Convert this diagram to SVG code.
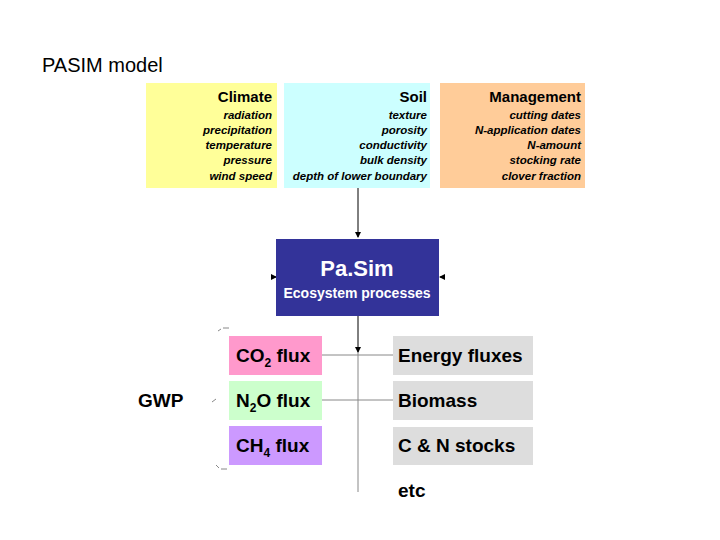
<svg xmlns="http://www.w3.org/2000/svg" width="720" height="540" viewBox="0 0 720 540">
<style>
text{font-family:"Liberation Sans",Arial,sans-serif}
.h{font-weight:bold;font-size:15px;text-anchor:end}
.i{font-weight:bold;font-style:italic;font-size:11.5px;text-anchor:end}
.b{font-weight:bold;font-size:19px}
.c{stroke:#000;stroke-width:1;fill:none}
.g{stroke:#888;stroke-width:1;fill:none}
</style>
<defs><marker id="a" markerWidth="6" markerHeight="6" refX="5" refY="3" orient="auto"><path d="M0,0L6,3L0,6z" fill="#000"/></marker></defs>
<rect width="720" height="540" fill="#fff"/>
<text x="42" y="72" font-size="20">PASIM model</text>
<g id="connectors">
<line class="c" x1="358" y1="188" x2="358" y2="237" marker-end="url(#a)"/>
<line class="c" x1="358" y1="316" x2="358" y2="352" marker-end="url(#a)"/>
<line class="g" x1="358" y1="352" x2="358" y2="492"/>
<line class="g" x1="322" y1="355" x2="393" y2="355"/>
<line class="g" x1="322" y1="400" x2="393" y2="400"/>
<path d="M274,277l2,0" stroke="#000" marker-end="url(#a)"/>
<path d="M442,277l-2,0" stroke="#000" marker-end="url(#a)"/>
<path d="M218,331l3,-2M223,328h6M212,402l4,-3M216,465l3,3M221,469h6" class="g"/>
</g>
<g id="climate"><rect x="146" y="83" width="131" height="105" fill="#ffff99"/>
<text class="h" x="272" y="102">Climate</text>
<text class="i" x="272" y="119">radiation</text><text class="i" x="272" y="134">precipitation</text><text class="i" x="272" y="149">temperature</text><text class="i" x="272" y="164">pressure</text><text class="i" x="272" y="180">wind speed</text></g>
<g id="soil"><rect x="284" y="83" width="146" height="105" fill="#ccffff"/>
<text class="h" x="427" y="102">Soil</text>
<text class="i" x="427" y="119">texture</text><text class="i" x="427" y="134">porosity</text><text class="i" x="427" y="149">conductivity</text><text class="i" x="427" y="164">bulk density</text><text class="i" x="427" y="180">depth of lower boundary</text></g>
<g id="management"><rect x="440" y="83" width="145" height="105" fill="#ffcc99"/>
<text class="h" x="581" y="102">Management</text>
<text class="i" x="581" y="119">cutting dates</text><text class="i" x="581" y="134">N-application dates</text><text class="i" x="581" y="149">N-amount</text><text class="i" x="581" y="164">stocking rate</text><text class="i" x="581" y="180">clover fraction</text></g>
<g id="pasim"><rect x="276" y="239" width="163" height="77" fill="#333399"/>
<text x="357" y="276" fill="#fff" font-size="22" font-weight="bold" text-anchor="middle">Pa.Sim</text>
<text x="357" y="298" fill="#fff" font-size="14" font-weight="bold" text-anchor="middle">Ecosystem processes</text></g>
<g id="co2"><rect x="229" y="336" width="93" height="39" fill="#ff99cc"/><text class="b" x="236" y="362">CO<tspan font-size="12" dy="5">2</tspan><tspan dy="-5"> flux</tspan></text></g>
<g id="n2o"><rect x="229" y="381" width="93" height="39" fill="#ccffcc"/><text class="b" x="236" y="407">N<tspan font-size="12" dy="5">2</tspan><tspan dy="-5">O flux</tspan></text></g>
<g id="ch4"><rect x="229" y="426" width="93" height="39" fill="#cc99ff"/><text class="b" x="236" y="452">CH<tspan font-size="12" dy="5">4</tspan><tspan dy="-5"> flux</tspan></text></g>
<g id="gwp"><text class="b" x="138" y="407">GWP</text></g>
<g id="energy"><rect x="393" y="336" width="140" height="39" fill="#dddddd"/><text class="b" x="398" y="362">Energy fluxes</text></g>
<g id="biomass"><rect x="393" y="381" width="140" height="39" fill="#dddddd"/><text class="b" x="398" y="407">Biomass</text></g>
<g id="cn"><rect x="393" y="427" width="140" height="38" fill="#dddddd"/><text class="b" x="398" y="452">C &amp; N stocks</text></g>
<g id="etc"><text class="b" x="398" y="497">etc</text></g>
</svg>
